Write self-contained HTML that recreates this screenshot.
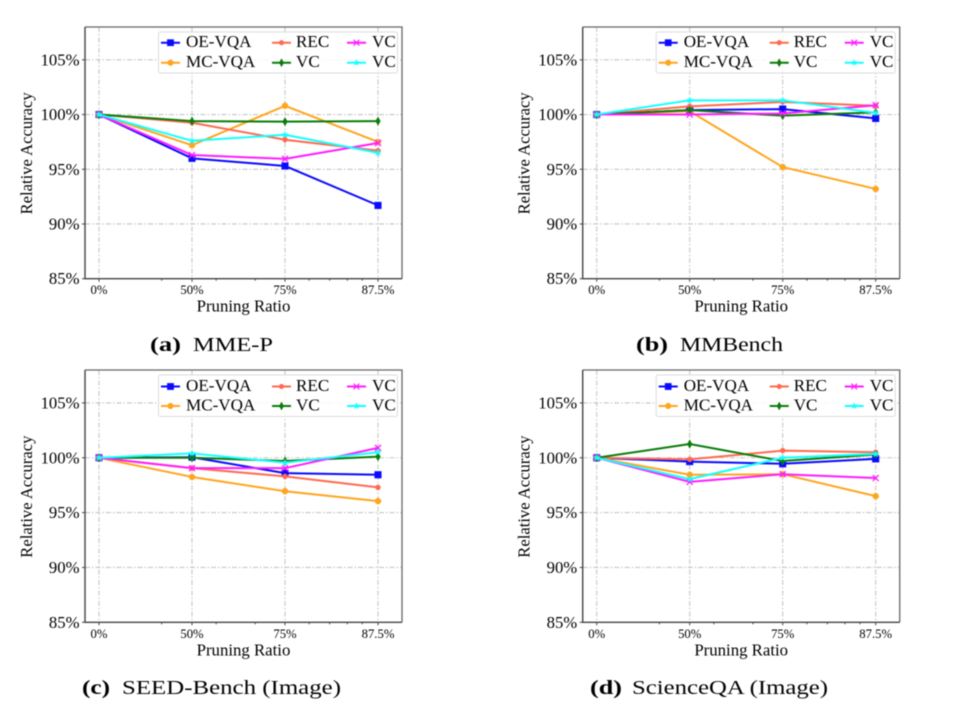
<!DOCTYPE html>
<html lang="en">
<head>
<meta charset="utf-8">
<title>Relative accuracy vs pruning ratio</title>
<style>
html,body{margin:0;padding:0;background:#fff;width:958px;height:711px;overflow:hidden}
svg{display:block;filter:blur(0.5px)}
text{font-family:"Liberation Serif","DejaVu Serif",serif;fill:#000}
</style>
</head>
<body>
<svg id="figure" xmlns="http://www.w3.org/2000/svg" width="958" height="711" viewBox="0 0 958 711"></svg>
<script>
const categories = ['0%', '50%', '75%', '87.5%'];
const yTicks = [85, 90, 95, 100, 105];
const minorTickSpots = [0.674, 1.26, 1.68, 2.26, 2.48, 2.67, 2.83];
const seriesNames = ['OE-VQA', 'MC-VQA', 'REC', 'VC', 'VC', 'VC'];
const seriesColors = ['#0a0aff', '#ffa51e', '#ff6a50', '#0a7d0a', '#ff1eff', '#14ffff'];
const seriesMarkers = ['square', 'circle', 'dot', 'diamond', 'x', 'star'];

const panelATitle = ['(a)', 'MME-P'];
const panelAOeVqa = [100, 96.0, 95.3, 91.7];
const panelAMcVqa = [100, 97.2, 100.8, 97.5];
const panelARec = [100, 99.25, 97.7, 96.7];
const panelAVcGreen = [100, 99.4, 99.35, 99.4];
const panelAVcMagenta = [100, 96.3, 95.95, 97.4];
const panelAVcCyan = [100, 97.6, 98.15, 96.5];

const panelBTitle = ['(b)', 'MMBench'];
const panelBOeVqa = [100, 100.4, 100.5, 99.65];
const panelBMcVqa = [100, 100.3, 95.2, 93.2];
const panelBRec = [100, 100.75, 101.15, 100.8];
const panelBVcGreen = [100, 100.4, 99.9, 100.2];
const panelBVcMagenta = [100, 100, 100.1, 100.85];
const panelBVcCyan = [100, 101.3, 101.3, 100.15];

const panelCTitle = ['(c)', 'SEED-Bench (Image)'];
const panelCOeVqa = [100, 100.05, 98.6, 98.45];
const panelCMcVqa = [100, 98.25, 96.95, 96.05];
const panelCRec = [100, 99.05, 98.3, 97.3];
const panelCVcGreen = [100, 100, 99.7, 100.1];
const panelCVcMagenta = [100, 99.05, 99.05, 100.9];
const panelCVcCyan = [100, 100.4, 99.55, 100.5];

const panelDTitle = ['(d)', 'ScienceQA (Image)'];
const panelDOeVqa = [100, 99.65, 99.45, 99.9];
const panelDMcVqa = [100, 98.45, 98.5, 96.5];
const panelDRec = [100, 99.85, 100.65, 100.5];
const panelDVcGreen = [100, 101.25, 99.7, 100.3];
const panelDVcMagenta = [100, 97.8, 98.5, 98.15];
const panelDVcCyan = [100, 98.05, 100, 100.35];

const panels = [
  { key: 'a', title: panelATitle, series: [panelAOeVqa, panelAMcVqa, panelARec, panelAVcGreen, panelAVcMagenta, panelAVcCyan],
    dx: 0, top: 27, bottom: 278.7, row1: 41.7, row2: 61.7, legendTop: 32, legendBottom: 73,
    capY: 351, cap1X: 150, cap1W: 31, cap2X: 193, cap2W: 80 },
  { key: 'b', title: panelBTitle, series: [panelBOeVqa, panelBMcVqa, panelBRec, panelBVcGreen, panelBVcMagenta, panelBVcCyan],
    dx: 497.7, top: 27, bottom: 278.7, row1: 41.7, row2: 61.7, legendTop: 32, legendBottom: 73,
    capY: 351, cap1X: 636, cap1W: 32, cap2X: 680, cap2W: 103 },
  { key: 'c', title: panelCTitle, series: [panelCOeVqa, panelCMcVqa, panelCRec, panelCVcGreen, panelCVcMagenta, panelCVcCyan],
    dx: 0, top: 370, bottom: 622.3, row1: 385.5, row2: 405, legendTop: 375, legendBottom: 416.5,
    capY: 694, cap1X: 82, cap1W: 28, cap2X: 122, cap2W: 219 },
  { key: 'd', title: panelDTitle, series: [panelDOeVqa, panelDMcVqa, panelDRec, panelDVcGreen, panelDVcMagenta, panelDVcCyan],
    dx: 497.7, top: 370, bottom: 622.3, row1: 385.5, row2: 405, legendTop: 375, legendBottom: 416.5,
    capY: 694, cap1X: 590, cap1W: 32, cap2X: 632, cap2W: 196 }
];

const SVG_NS = 'http://www.w3.org/2000/svg';
const figure = document.getElementById('figure');

function make(parent, tag, attrs, content) {
  const node = document.createElementNS(SVG_NS, tag);
  Object.keys(attrs).forEach(function (k) { node.setAttribute(k, attrs[k]); });
  if (content !== undefined) node.textContent = content;
  parent.appendChild(node);
  return node;
}

function drawMarker(parent, kind, cx, cy, color, scale) {
  const g = make(parent, 'g', { fill: color, stroke: color });
  const s = scale;
  if (kind === 'square') {
    make(g, 'rect', { x: cx - 3.3 * s, y: cy - 3.3 * s, width: 6.6 * s, height: 6.6 * s, 'stroke-width': 0.5 });
  } else if (kind === 'circle') {
    make(g, 'circle', { cx: cx, cy: cy, r: 3 * s, 'stroke-width': 0.5 });
  } else if (kind === 'dot') {
    make(g, 'circle', { cx: cx, cy: cy, r: 2.5 * s, 'stroke-width': 0.5 });
  } else if (kind === 'diamond') {
    make(g, 'polygon', { points: [cx, cy - 4.2 * s, cx + 2.3 * s, cy, cx, cy + 4.2 * s, cx - 2.3 * s, cy].join(' '), 'stroke-width': 0.5 });
  } else if (kind === 'x') {
    const r = 3 * s;
    make(g, 'path', { d: 'M' + (cx - r) + ' ' + (cy - r) + 'L' + (cx + r) + ' ' + (cy + r) + 'M' + (cx - r) + ' ' + (cy + r) + 'L' + (cx + r) + ' ' + (cy - r), fill: 'none', 'stroke-width': 1.3 });
  } else {
    const pts = [];
    for (let i = 0; i < 10; i++) {
      const rad = (i % 2 ? 1.4 : 3.5) * s;
      const ang = -Math.PI / 2 + i * Math.PI / 5;
      pts.push((cx + rad * Math.cos(ang)).toFixed(2) + ',' + (cy + rad * Math.sin(ang)).toFixed(2));
    }
    make(g, 'polygon', { points: pts.join(' '), 'stroke-width': 0.4 });
  }
  return g;
}

function drawPanel(p) {
  const left = 85 + p.dx, right = 402 + p.dx;
  const xAt = function (i) { return 99 + p.dx + i * 93; };
  const yAt = function (v) { return p.bottom + (v - 85) * (p.bottom - p.top) / -23; };

  const panel = make(figure, 'g', {});
  
  

  // gridlines
  const grid = make(panel, 'g', { stroke: '#c6c6c6', 'stroke-width': 1.1, 'stroke-dasharray': '5 2 1.5 2', fill: 'none' });
  
  
  categories.forEach(function (c, i) {
    make(grid, 'line', { x1: xAt(i), x2: xAt(i), y1: p.top, y2: p.bottom });
  });
  yTicks.slice(1).forEach(function (v) {
    make(grid, 'line', { x1: left, x2: right, y1: yAt(v), y2: yAt(v) });
  });

  // series lines and markers
  p.series.forEach(function (vals, si) {
    const g = make(panel, 'g', {});
    
    
    const pts = vals.map(function (v, i) { return xAt(i).toFixed(2) + ',' + yAt(v).toFixed(2); }).join(' ');
    make(g, 'polyline', { points: pts, fill: 'none', stroke: seriesColors[si], 'stroke-width': 2, 'stroke-linejoin': 'round' });
    vals.forEach(function (v, i) {
      drawMarker(g, seriesMarkers[si], xAt(i), yAt(v), seriesColors[si], 1);
    });
  });

  // spines
  const spines = make(panel, 'g', {});
  
  
  make(spines, 'path', { d: 'M' + left + ' ' + p.top + 'H' + right + 'V' + p.bottom, fill: 'none', stroke: '#666', 'stroke-width': 1.3 });
  make(spines, 'path', { d: 'M' + left + ' ' + p.top + 'V' + p.bottom + 'H' + right, fill: 'none', stroke: '#444', 'stroke-width': 1.4 });

  // x axis
  const xAxis = make(panel, 'g', {});
  
  
  categories.forEach(function (c, i) {
    make(xAxis, 'line', { x1: xAt(i), x2: xAt(i), y1: p.bottom, y2: p.bottom + 3, stroke: '#444', 'stroke-width': 1 });
    const t = make(xAxis, 'text', { x: xAt(i), y: p.bottom + 15.5, 'text-anchor': 'middle', 'font-size': 12.7 }, c);
    
    
  });
  minorTickSpots.forEach(function (u) {
    make(xAxis, 'line', { x1: xAt(u), x2: xAt(u), y1: p.bottom, y2: p.bottom + 2, stroke: '#444', 'stroke-width': 1 });
  });
  const xTitle = make(xAxis, 'text', { x: 243.5 + p.dx, y: p.bottom + 33, 'text-anchor': 'middle', 'font-size': 16.8 }, 'Pruning Ratio');
  
  

  // y axis
  const yAxis = make(panel, 'g', {});
  
  
  yTicks.forEach(function (v) {
    make(yAxis, 'line', { x1: left - 3, x2: left, y1: yAt(v), y2: yAt(v), stroke: '#444', 'stroke-width': 1 });
    const t = make(yAxis, 'text', { x: left - 5.5, y: yAt(v) + 5.5, 'text-anchor': 'end', 'font-size': 16.7 }, v + '%');
    
    
  });
  const midY = (p.top + p.bottom) / 2;
  const yTitle = make(yAxis, 'text', { x: 0, y: 0, transform: 'translate(' + (32 + p.dx) + ' ' + (midY + 0.5) + ') rotate(-90)', 'text-anchor': 'middle', 'font-size': 16.6 }, 'Relative Accuracy');
  
  

  // legend
  const legend = make(panel, 'g', {});
  
  
  make(legend, 'rect', { x: 158.5 + p.dx, y: p.legendTop, width: 239, height: p.legendBottom - p.legendTop, rx: 2, fill: 'rgba(255,255,255,0.85)', stroke: '#dcdcdc', 'stroke-width': 1 });
  const colHandle = [161, 272, 347];
  const colText = [186, 296, 372];
  seriesNames.forEach(function (name, si) {
    const col = Math.floor(si / 2);
    const rowY = si % 2 === 0 ? p.row1 : p.row2;
    const entry = make(legend, 'g', {});
    
    
    const hx = colHandle[col] + p.dx;
    make(entry, 'line', { x1: hx, x2: hx + 19, y1: rowY + 1, y2: rowY + 1, stroke: seriesColors[si], 'stroke-width': 2 });
    drawMarker(entry, seriesMarkers[si], hx + 9.5, rowY + 1, seriesColors[si], 0.95);
    make(entry, 'text', { x: colText[col] + p.dx, y: rowY + 5.5, 'font-size': 17.1 }, name);
  });

  // caption
  const caption = make(panel, 'g', {});
  
  
  make(caption, 'text', { x: p.cap1X, y: p.capY, 'font-size': 20, 'font-weight': 'bold', textLength: p.cap1W, lengthAdjust: 'spacingAndGlyphs' }, p.title[0]);
  make(caption, 'text', { x: p.cap2X, y: p.capY, 'font-size': 20, textLength: p.cap2W, lengthAdjust: 'spacingAndGlyphs' }, p.title[1]);
}

panels.forEach(drawPanel);
</script>
</body>
</html>
